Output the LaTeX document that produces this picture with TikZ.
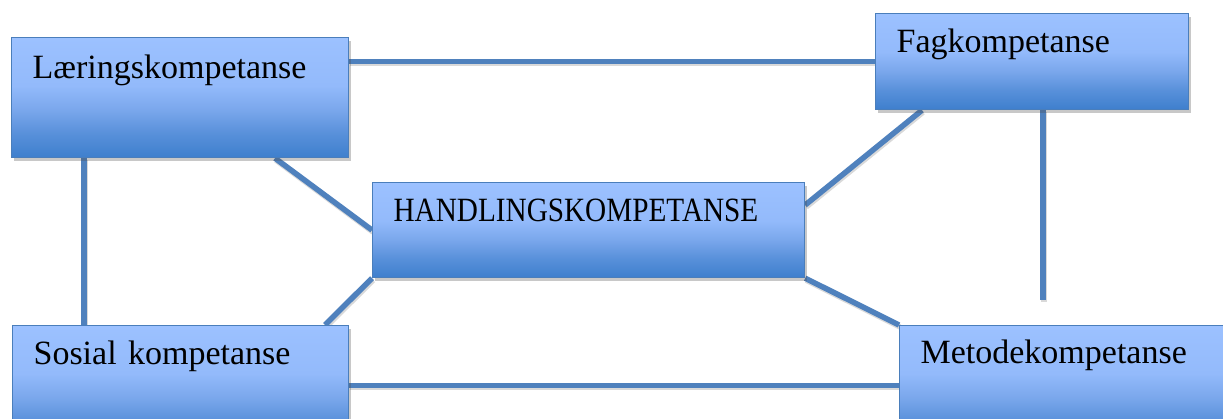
\documentclass[tikz,border=0pt]{standalone}
\usepackage{fontspec}
\setmainfont{Liberation Serif}
\usepackage{graphicx}
\usetikzlibrary{calc,shadows,backgrounds}
\definecolor{lineblue}{HTML}{4F81BD}
\definecolor{edgeblue}{HTML}{4A7EBB}
\definecolor{kTop}{HTML}{9CC1FF}
\definecolor{kUp}{HTML}{93BAFB}
\definecolor{kMid}{HTML}{7AA7EC}
\definecolor{kLow}{HTML}{5890DA}
\definecolor{kBot}{HTML}{3E7FCD}
\pgfdeclareverticalshading{kshade}{100bp}{color(0bp)=(kBot); color(25bp)=(kBot); color(35bp)=(kLow); color(45bp)=(kMid); color(55bp)=(kUp); color(75bp)=(kTop); color(100bp)=(kTop)}
\tikzset{
  kbox/.style={draw=edgeblue, line width=1.2pt, shading=kshade, anchor=north west,
    drop shadow={shadow xshift=2pt, shadow yshift=-3pt, opacity=0.3, fill=black!70},
    inner xsep=21pt, inner ysep=0pt, align=left, font=\fontsize{34}{40}\selectfont},
  conn/.style={draw=lineblue, line width=5.5pt,
    preaction={draw=black, opacity=0.15, line width=5.5pt, transform canvas={xshift=1pt, yshift=-2pt}}}
}
\begin{document}
\begin{tikzpicture}[x=1pt,y=-1pt]
\useasboundingbox (0,0) rectangle (1223,419);
\node[kbox, text width=295pt, text height=41pt, text depth=79pt] (L) at (11,37) {Læringskompetanse};
\node[kbox, text width=271pt, text height=39pt, text depth=57pt] (F) at (875,13) {Fagkompetanse};
\node[kbox, text width=390pt, text height=39pt, text depth=56pt] (H) at (372,182) {\scalebox{0.86}[1]{HANDLINGSKOMPETANSE}};
\node[kbox, text width=294pt, text height=39pt, text depth=81pt] (S) at (12,325) {Sosial kompetanse};
\node[kbox, text width=299pt, text height=38pt, text depth=82pt] (M) at (899,325) {Metodekompetanse};
\coordinate (fend) at (1043,300);
\begin{scope}[on background layer]
\fill[white] (0,0) rectangle (1223,419);
\draw[conn] (F.west -| L.east) -- (F.west);
\draw[conn] ($(L.south west)+(73,0)$) -- ($(S.north west)+(72,0)$);
\draw[conn] ($(L.south west)+(264,0)$) -- (H.west);
\draw[conn] (H.south west) -- ($(S.north west)+(313,0)$);
\draw[conn] ($(H.north east)+(0,23)$) -- ($(F.south west)+(47,0)$);
\draw[conn] (H.south east) -- (M.north west);
\draw[conn] (S.east) -- (M.west);
\draw[conn] ($(F.south west)+(168,0)$) -- (fend);
\end{scope}
\end{tikzpicture}
\end{document}
